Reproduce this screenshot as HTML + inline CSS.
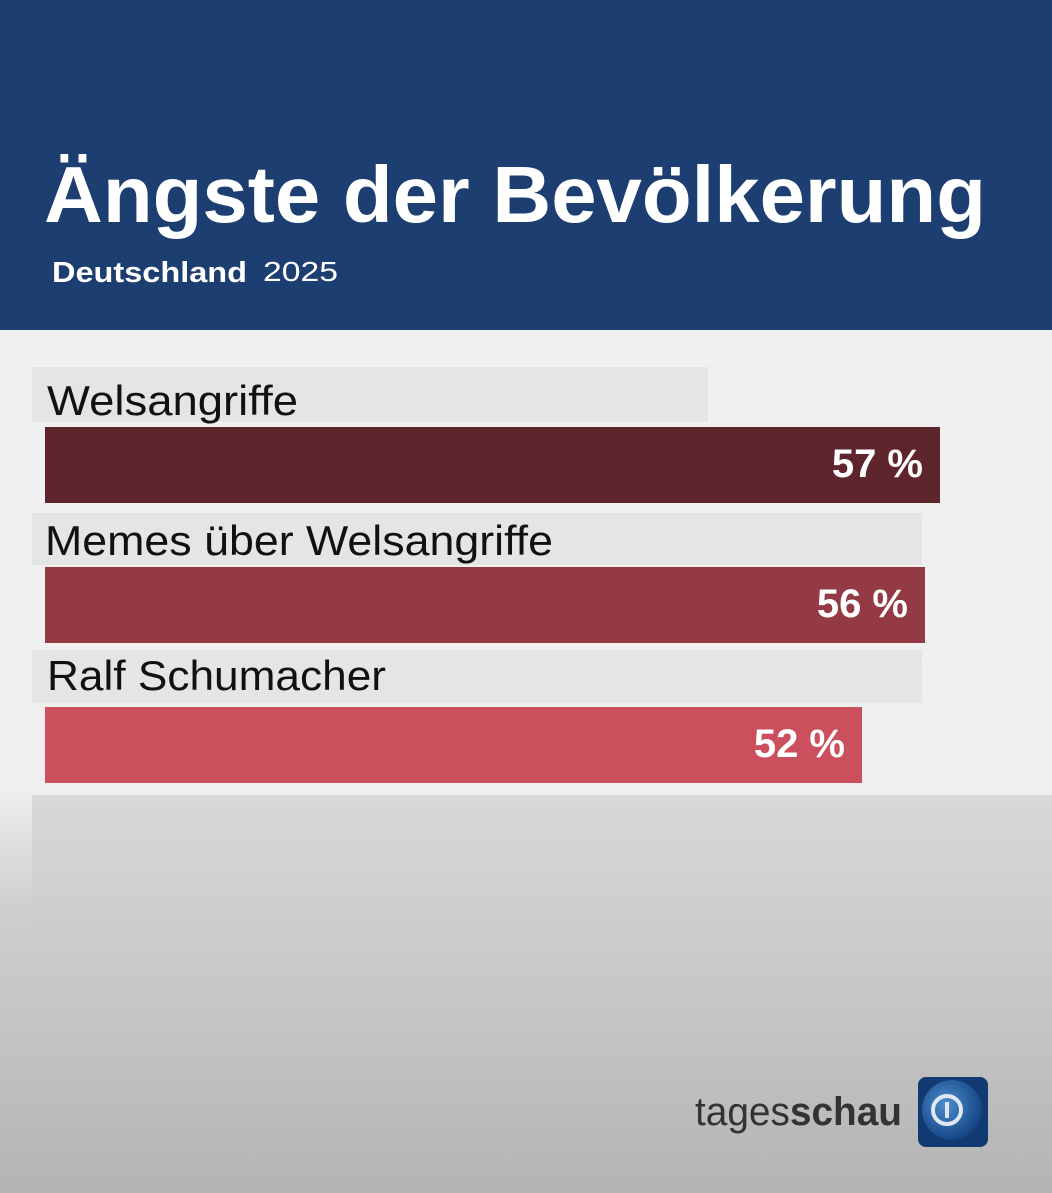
<!DOCTYPE html>
<html><head><meta charset="utf-8"><style>
body{margin:0;width:1052px;height:1193px;overflow:hidden;position:relative;font-family:"Liberation Sans",sans-serif;background:linear-gradient(#f1f1f1 0,#efefef 790px,#d0d0d0 900px,#b4b4b4 1193px)}
.a{position:absolute}
.box{background:#e5e5e5}
.val{font-size:40px;font-weight:bold;color:#fff;text-align:right}
</style></head><body>
<div class="a" style="left:0;top:0;width:1052px;height:330px;background:#1c3e71"></div>
<svg class="a" style="left:0;top:0" width="1052" height="330">
<text x="44" y="222" font-family="Liberation Sans" font-weight="bold" font-size="80" fill="#fff" textLength="942" lengthAdjust="spacingAndGlyphs">Ängste der Bevölkerung</text>
<text x="52" y="282" font-family="Liberation Sans" font-weight="bold" font-size="29" fill="#fff" textLength="195" lengthAdjust="spacingAndGlyphs">Deutschland</text>
<text x="263" y="281" font-family="Liberation Sans" font-size="28" fill="#fff" textLength="75" lengthAdjust="spacingAndGlyphs">2025</text>
</svg>
<div class="a" style="left:32px;top:795px;width:1020px;height:277px;background:linear-gradient(#d8d8d8,#c0c0c0)"></div>

<div class="a box" style="left:32px;top:367px;width:676px;height:55px"></div>
<div class="a" style="left:45px;top:427px;width:895px;height:76px;background:#5f252c"></div>
<div class="a val" style="left:45px;top:442px;width:878px">57 %</div>

<div class="a box" style="left:32px;top:513px;width:890px;height:52px"></div>
<div class="a" style="left:45px;top:567px;width:880px;height:76px;background:#943a45"></div>
<div class="a val" style="left:45px;top:582px;width:863px">56 %</div>

<div class="a box" style="left:32px;top:650px;width:890px;height:53px"></div>
<div class="a" style="left:45px;top:707px;width:817px;height:76px;background:#cc4f5e"></div>
<div class="a val" style="left:45px;top:722px;width:800px">52 %</div>

<svg class="a" style="left:0;top:0" width="1052" height="800">
<g font-family="Liberation Sans" font-size="42" fill="#111">
<text x="47" y="415" textLength="251" lengthAdjust="spacingAndGlyphs">Welsangriffe</text>
<text x="45" y="555" textLength="508" lengthAdjust="spacingAndGlyphs">Memes über Welsangriffe</text>
<text x="47" y="690" textLength="339" lengthAdjust="spacingAndGlyphs">Ralf Schumacher</text>
</g>
</svg>

<svg class="a" style="left:0;top:1060px" width="1052" height="133">
<text x="695" y="65" font-family="Liberation Sans" font-size="40" fill="#333" textLength="207" lengthAdjust="spacingAndGlyphs">tages<tspan font-weight="bold">schau</tspan></text>
<defs><radialGradient id="g" cx="0.4" cy="0.4" r="0.7"><stop offset="0" stop-color="#4a8ed0"/><stop offset="1" stop-color="#0f3a78"/></radialGradient></defs>
<rect x="918" y="17" width="70" height="70" rx="8" fill="#123a72"/>
<circle cx="952" cy="50" r="30" fill="url(#g)"/>
<circle cx="947" cy="50" r="14" fill="none" stroke="#dfe8f2" stroke-width="4"/>
<rect x="945" y="42" width="4" height="16" fill="#dfe8f2"/>
</svg>
</body></html>
